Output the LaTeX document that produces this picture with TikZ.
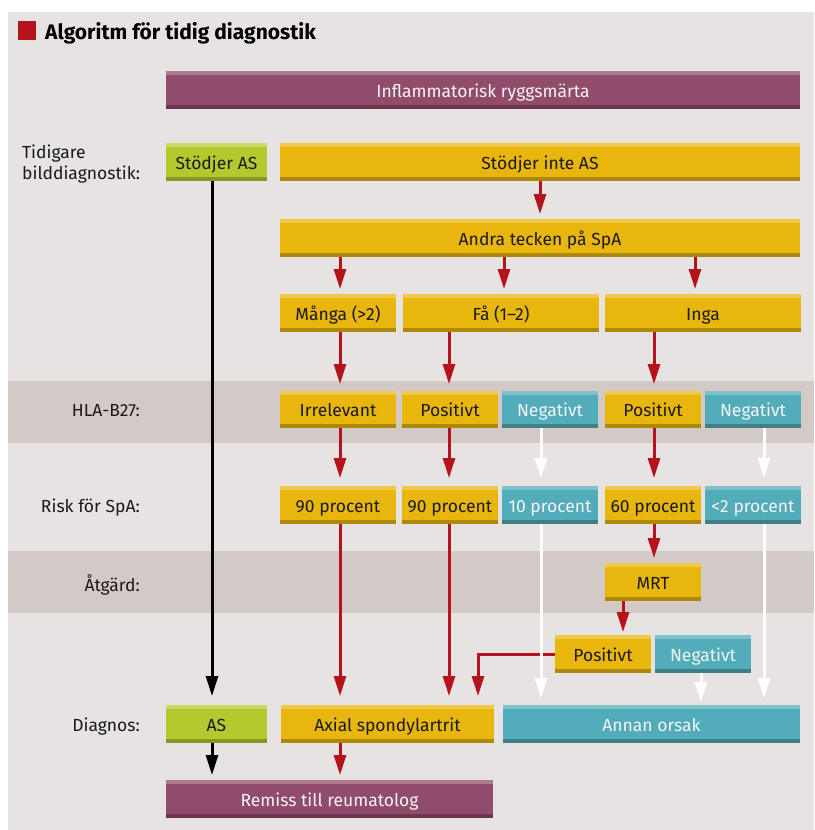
\documentclass[tikz,border=0pt]{standalone}
\usepackage{fontspec}
\setmainfont{Fira Sans}
\usetikzlibrary{arrows.meta}
\definecolor{bgc}{HTML}{E7E3E2}
\definecolor{bandc}{HTML}{D3CAC8}
\definecolor{purM}{HTML}{924C6B}
\definecolor{purT}{HTML}{AD7A8E}
\definecolor{purB}{HTML}{6D3450}
\definecolor{grnM}{HTML}{B5C92F}
\definecolor{grnT}{HTML}{CAD966}
\definecolor{grnB}{HTML}{879624}
\definecolor{yelM}{HTML}{E9B60D}
\definecolor{yelT}{HTML}{F0C94B}
\definecolor{yelB}{HTML}{AE880A}
\definecolor{tealM}{HTML}{52ACBA}
\definecolor{tealT}{HTML}{7EC2CC}
\definecolor{tealB}{HTML}{3E7F88}
\definecolor{arrred}{HTML}{B5121B}
\definecolor{txtd}{HTML}{1A1A1A}
\definecolor{txtl}{HTML}{F4F4F4}

\newcommand\bx[7]{\node[#6, minimum width={(#4-#2)*1pt}, minimum height={(#5-#3)*1pt}] (#1) at ({(#2+#4)/2},{(#3+#5)/2}) {#7};}

\begin{document}
\begin{tikzpicture}[x=1pt,y=-1pt,
  boxbase/.style={inner sep=0pt, outer sep=0pt, font=\fontsize{17.5}{20}\selectfont, text height=15pt, text depth=1pt},
  striped/.style n args={3}{boxbase, fill=#1, path picture={
     \fill[#2] (path picture bounding box.north west) rectangle ([yshift=-4pt]path picture bounding box.north east);
     \fill[#3] ([yshift=4pt]path picture bounding box.south west) rectangle (path picture bounding box.south east);}},
  pur/.style={striped={purM}{purT}{purB}, text=txtl},
  grn/.style={striped={grnM}{grnT}{grnB}, text=txtd},
  yel/.style={striped={yelM}{yelT}{yelB}, text=txtd},
  teal/.style={striped={tealM}{tealT}{tealB}, text=txtl},
  lbl/.style={inner sep=0pt, font=\fontsize{17.5}{20}\selectfont, text=txtd},
  arr/.style={line width=3pt, -{Triangle[length=20pt,width=12pt]}, shorten >=7pt},
  redarr/.style={arr, draw=arrred},
  blkarr/.style={arr, draw=black},
  whtarr/.style={arr, draw=white},
]
\useasboundingbox (0,0) rectangle (814,830);
\fill[white] (0,0) rectangle (814,830);
\fill[bgc] (8,12) rectangle (814,830);
\fill[bandc] (8,381) rectangle (814,443);
\fill[bandc] (8,551) rectangle (814,613);

% title
\fill[arrred] (18,21) rectangle (36,40);
\node[inner sep=0pt, anchor=base west, font=\fontsize{21}{24}\selectfont\bfseries, text=black] (title) at (45,39) {Algoritm för tidig diagnostik};

% row labels
\node[lbl, anchor=base west] (l1a) at (22,158) {Tidigare};
\node[lbl, anchor=base west] (l1b) at (22,179) {bilddiagnostik:};
\node[lbl, anchor=base east] (l2) at (140,416) {HLA-B27:};
\node[lbl, anchor=base east] (l3) at (140,512) {Risk för SpA:};
\node[lbl, anchor=base east] (l4) at (140,591) {Åtgärd:};
\node[lbl, anchor=base east] (l5) at (140,731) {Diagnos:};

% boxes
\bx{infl}{166}{71}{800}{109}{pur}{Inflammatorisk ryggsmärta}
\bx{stas}{166}{143}{267}{181}{grn}{Stödjer AS}
\bx{stinte}{280}{143}{800}{181}{yel}{Stödjer inte AS}
\bx{andra}{280}{219}{800}{257}{yel}{Andra tecken på SpA}
\bx{manga}{280}{294}{396}{332}{yel}{Många (>2)}
\bx{fa}{403}{294}{599}{332}{yel}{Få (1–2)}
\bx{inga}{605}{294}{801}{332}{yel}{Inga}
\bx{irr}{280}{391}{396}{428}{yel}{Irrelevant}
\bx{posa}{402}{391}{498}{428}{yel}{Positivt}
\bx{nega}{502}{391}{598}{428}{teal}{Negativt}
\bx{posb}{605}{391}{701}{428}{yel}{Positivt}
\bx{negb}{705}{391}{801}{428}{teal}{Negativt}
\bx{ra}{280}{486}{396}{524}{yel}{90 procent}
\bx{rb}{402}{486}{498}{524}{yel}{90 procent}
\bx{rc}{502}{486}{598}{524}{teal}{10 procent}
\bx{rd}{605}{486}{701}{524}{yel}{60 procent}
\bx{re}{705}{486}{801}{524}{teal}{<2 procent}
\bx{mrt}{605}{563}{701}{601}{yel}{MRT}
\bx{posm}{555}{635}{651}{673}{yel}{Positivt}
\bx{negm}{655}{635}{751}{673}{teal}{Negativt}
\bx{as}{166}{705}{267}{743}{grn}{AS}
\bx{axial}{281}{705}{494}{743}{yel}{Axial spondylartrit}
\bx{annan}{503}{705}{800}{743}{teal}{Annan orsak}
\bx{remiss}{166}{780}{493}{818}{pur}{Remiss till reumatolog}

% arrows
\draw[redarr, shorten >=5pt] (stinte.south) -- (andra.north);
\draw[redarr, shorten >=5pt] (340,0 |- andra.south) -- (340,0 |- manga.north);
\draw[redarr, shorten >=5pt] (504,0 |- andra.south) -- (504,0 |- fa.north);
\draw[redarr, shorten >=5pt] (695,0 |- andra.south) -- (695,0 |- inga.north);
\draw[redarr] (340,0 |- manga.south) -- (340,0 |- irr.north);
\draw[redarr] (449,0 |- fa.south) -- (449,0 |- posa.north);
\draw[redarr] (654,0 |- inga.south) -- (654,0 |- posb.north);
\draw[redarr, shorten >=8pt] (340,0 |- irr.south) -- (340,0 |- ra.north);
\draw[redarr, shorten >=8pt] (449,0 |- posa.south) -- (449,0 |- rb.north);
\draw[whtarr, shorten >=8pt] (541,0 |- nega.south) -- (541,0 |- rc.north);
\draw[redarr, shorten >=8pt] (654,0 |- posb.south) -- (654,0 |- rd.north);
\draw[whtarr, shorten >=8pt] (764,0 |- negb.south) -- (764,0 |- re.north);
\draw[redarr, shorten >=5pt] (654,0 |- rd.south) -- (654,0 |- mrt.north);
\draw[redarr, shorten >=3pt] (623,0 |- mrt.south) -- (623,0 |- posm.north);
\draw[blkarr, shorten >=9pt] (212,0 |- stas.south) -- (212,0 |- as.north);
\draw[redarr, shorten >=9pt] (340,0 |- ra.south) -- (340,0 |- axial.north);
\draw[redarr, shorten >=9pt] (449,0 |- rb.south) -- (449,0 |- axial.north);
\draw[redarr, shorten >=9pt] (posm.west) -| (478,0 |- axial.north);
\draw[whtarr, shorten >=7pt] (541,0 |- rc.south) -- (541,0 |- annan.north);
\draw[whtarr, shorten >=3pt] (701,0 |- negm.south) -- (701,0 |- annan.north);
\draw[whtarr, shorten >=7pt] (764,0 |- re.south) -- (764,0 |- annan.north);
\draw[blkarr, shorten >=5pt] (212,0 |- as.south) -- (212,0 |- remiss.north);
\draw[redarr, shorten >=5pt] (340,0 |- axial.south) -- (340,0 |- remiss.north);
\end{tikzpicture}
\end{document}
